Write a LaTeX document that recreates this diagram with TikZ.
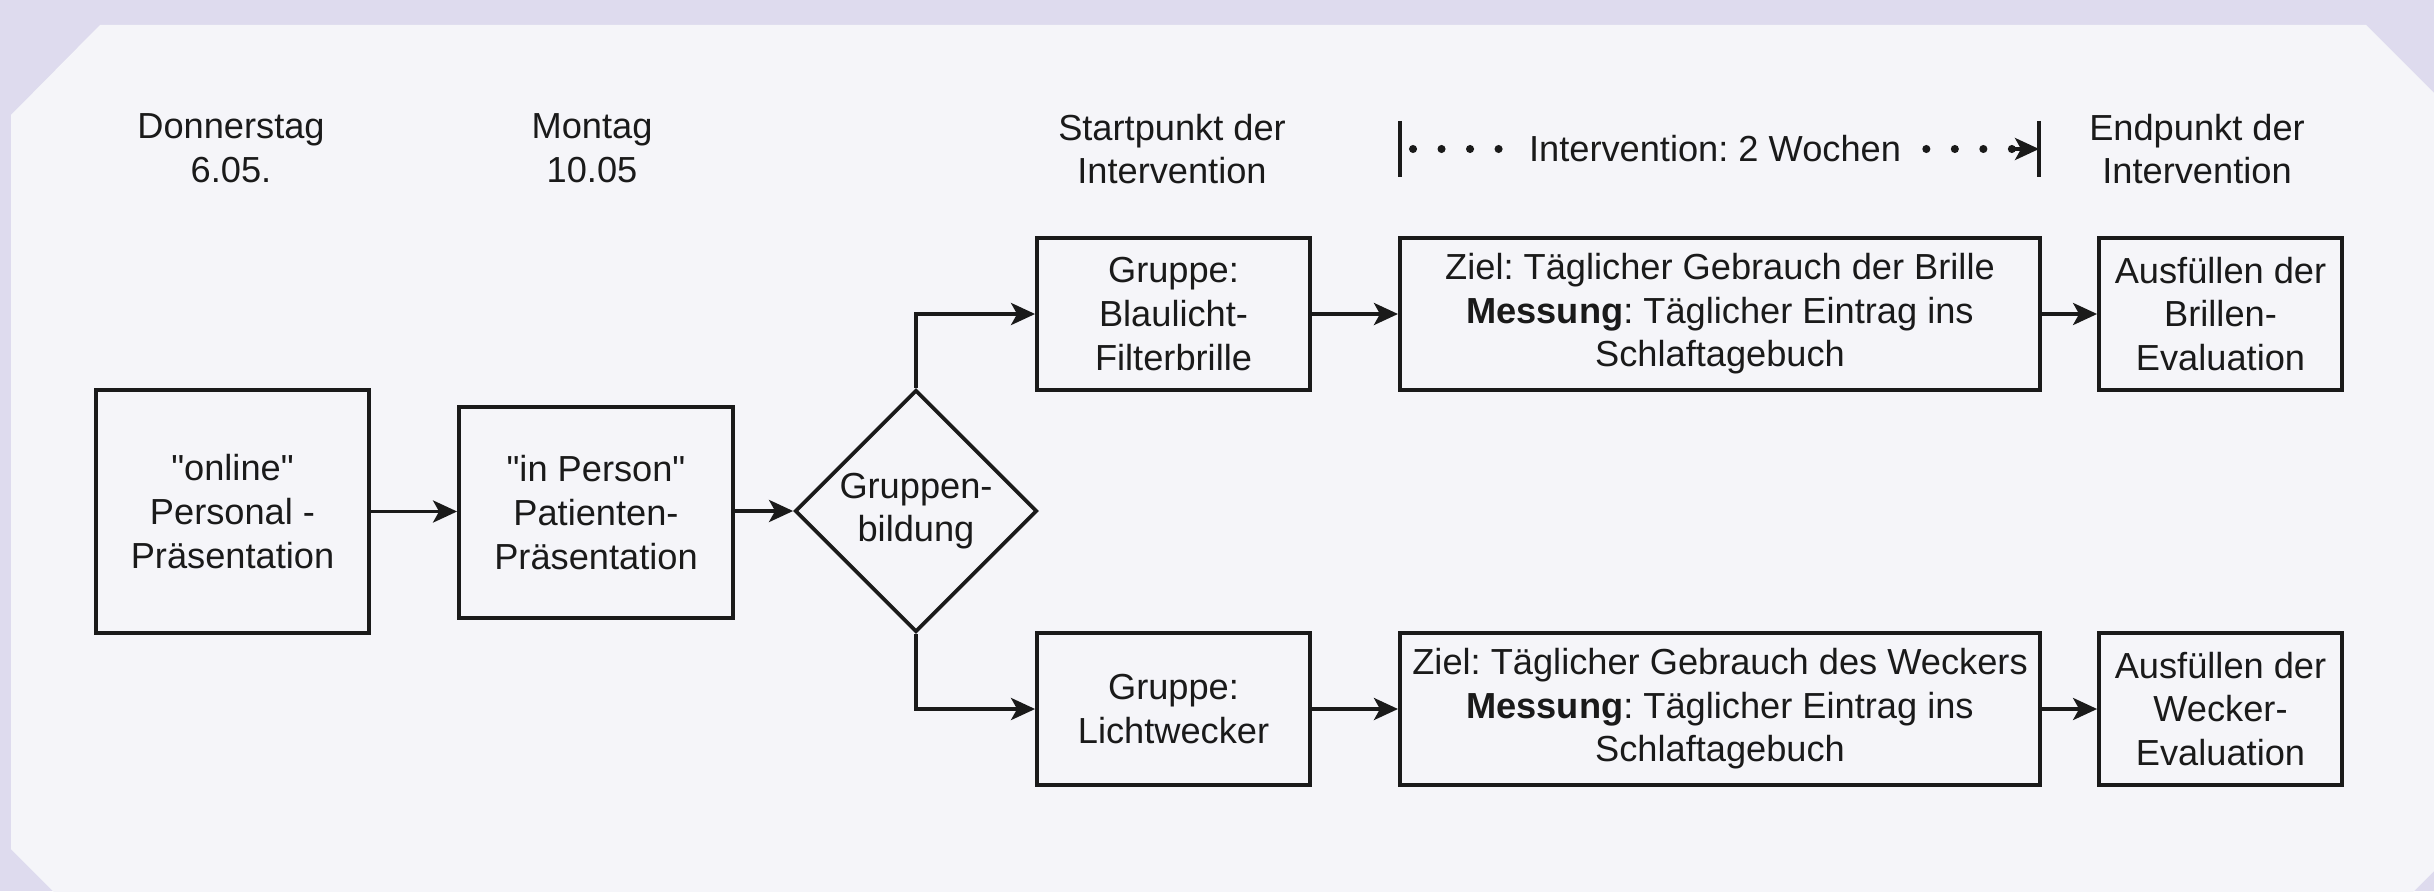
\documentclass[tikz,border=0pt]{standalone}
\usepackage{fontspec}
\setmainfont{Liberation Sans}[Ligatures=TeXOff]
\usetikzlibrary{arrows.meta,shapes.geometric}
\frenchspacing
\definecolor{outerbg}{HTML}{DEDBEE}
\definecolor{innerbg}{HTML}{F5F5F9}
\definecolor{linec}{HTML}{1A1A1A}
\newcommand{\fs}{\fontsize{10.3}{12.4}\selectfont}
\tikzset{
  box/.style={draw=linec, line width=1.05pt, align=center, inner sep=0pt, font=\fs, text=linec},
  diabox/.style={box, diamond, shape aspect=1},
  arr/.style={draw=linec, line width=1.05pt, -{Stealth[length=0.24cm,width=0.22cm,inset=0.06cm]}},
  lbl/.style={align=center, font=\fs, text=linec, inner sep=0pt},
  dotline/.style={draw=linec, line width=2.3pt, line cap=round, dash pattern=on 0pt off 0.285cm}
}
\begin{document}
\begin{tikzpicture}[x=0.01cm,y=-0.01cm]
\useasboundingbox (0,0) rectangle (2434,891);
\begin{scope}
\clip (0,0) rectangle (2434,891);
\fill[outerbg] (0,0) rectangle (2434,891);
\fill[innerbg] (11,115) -- (100,25) -- (2366,25) -- (2456,115) -- (2456,849) -- (2366,939) -- (101,939) -- (11,849) -- cycle;
\end{scope}

% top labels
\node[lbl] (l1) at (231,148) {Donnerstag\\6.05.};
\node[lbl] (l2) at (592,148) {Montag\\10.05};
\node[lbl] (l3) at (1172,149) {Startpunkt der\\Intervention};
\node[lbl] (l4) at (2197,149) {Endpunkt der\\Intervention};

% intervention span
\coordinate (ia) at (1400,149);
\coordinate (ib) at (2039,149);
\draw[linec, line width=1.05pt] ([yshift=0.28cm]ia) -- ([yshift=-0.28cm]ia);
\draw[linec, line width=1.05pt] ([yshift=0.28cm]ib) -- ([yshift=-0.28cm]ib);
\draw[dotline] ([xshift=0.13cm]ia) -- ([xshift=-0.25cm]ib);
\node[lbl, fill=innerbg, inner xsep=0.17cm, inner ysep=0.05cm] (il) at (1715,149) {Intervention: 2 Wochen};
\coordinate (ic) at (2012,149);
\draw[arr] (ic) -- (ib);

% boxes
\node[box, minimum width=2.73cm, minimum height=2.43cm] (b1) at (232.5,511.5) {"online"\\Personal -\\Präsentation};
\node[box, minimum width=2.74cm, minimum height=2.11cm] (b2) at (596,512.5) {"in Person"\\Patienten-\\Präsentation};
\node[diabox, minimum width=2.42cm, minimum height=2.42cm] (dia) at (916,511) {Gruppen-\\bildung};

\node[box, minimum width=2.73cm, minimum height=1.52cm] (g1) at (1173.5,314) {Gruppe:\\Blaulicht-\\Filterbrille};
\node[box, minimum width=6.40cm, minimum height=1.52cm] (z1) at (1720,314) {Ziel: Täglicher Gebrauch der Brille\\\textbf{Messung}: Täglicher Eintrag ins\\Schlaftagebuch};
\node[box, minimum width=2.43cm, minimum height=1.52cm] (e1) at (2220.5,314) {Ausfüllen der\\Brillen-\\Evaluation};

\node[box, minimum width=2.73cm, minimum height=1.52cm] (g2) at (1173.5,709) {Gruppe:\\Lichtwecker};
\node[box, minimum width=6.40cm, minimum height=1.52cm] (z2) at (1720,709) {Ziel: Täglicher Gebrauch des Weckers\\\textbf{Messung}: Täglicher Eintrag ins\\Schlaftagebuch};
\node[box, minimum width=2.43cm, minimum height=1.52cm] (e2) at (2220.5,709) {Ausfüllen der\\Wecker-\\Evaluation};

% connectors
\draw[arr] (b1.east) -- (b2.west|-b1.east);
\draw[arr] (b2.east|-dia.west) -- (dia.west);
\draw[arr] (dia.north) |- (g1.west);
\draw[arr] (dia.south) |- (g2.west);
\draw[arr] (g1) -- (z1);
\draw[arr] (z1) -- (e1);
\draw[arr] (g2) -- (z2);
\draw[arr] (z2) -- (e2);
\end{tikzpicture}
\end{document}
